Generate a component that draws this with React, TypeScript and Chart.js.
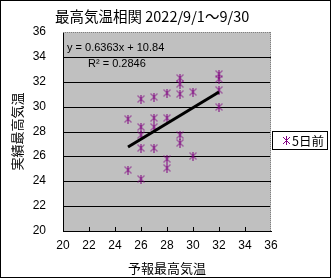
import React, { useEffect, useRef } from 'react';
import { Chart, registerables } from 'chart.js';

Chart.register(...registerables);

const titleText = '最高気温相関 2022/9/1～9/30';
const xAxisTitle = '予報最高気温';
const yAxisTitle = '実績最高気温';
const seriesLabel = '5日前';

// forecast max temperature (x) and actual max temperature (y)
const forecastTemps = [
  25, 25,
  26, 26, 26, 26, 26,
  27, 27, 27, 27,
  28, 28, 28, 28,
  29, 29, 29, 29, 29,
  30, 30,
  32, 32, 32, 32,
];
const actualTemps = [
  29.0, 24.9,
  30.6, 28.4, 27.7, 26.7, 24.2,
  30.8, 29.1, 28.4, 26.7,
  31.1, 29.1, 25.8, 25.1,
  32.3, 31.8, 31.0, 27.7, 27.1,
  31.2, 26.0,
  32.6, 32.2, 31.3, 30.0,
];

const trendSlope = 0.6363;
const trendIntercept = 10.84;
const rSquared = 0.2846;

const axisMin = 20;
const axisMax = 36;
const axisStep = 2;

const CJK = '"Noto Sans CJK JP", sans-serif';
const LATIN = '"Liberation Sans", Arial, sans-serif';

function makeMarker(): HTMLCanvasElement {
  const c = document.createElement('canvas');
  c.width = 9;
  c.height = 9;
  const g = c.getContext('2d')!;
  g.strokeStyle = '#800080';
  g.lineWidth = 1;
  g.beginPath();
  g.moveTo(1, 1);
  g.lineTo(8, 8);
  g.moveTo(8, 1);
  g.lineTo(1, 8);
  g.moveTo(4.5, 0);
  g.lineTo(4.5, 9);
  g.stroke();
  return c;
}

export default function App() {
  const ref = useRef<HTMLCanvasElement>(null);

  useEffect(() => {
    document.body.style.margin = '0';
    const canvas = ref.current!;
    const marker = makeMarker();

    const points = forecastTemps.map((x, i) => ({ x, y: actualTemps[i] }));
    const minX = Math.min(...forecastTemps);
    const maxX = Math.max(...forecastTemps);
    const trend = [
      { x: minX, y: trendSlope * minX + trendIntercept },
      { x: maxX, y: trendSlope * maxX + trendIntercept },
    ];

    const decor = {
      id: 'decor',
      beforeDraw(chart: any) {
        const { ctx, chartArea: a } = chart;
        ctx.save();
        ctx.fillStyle = '#ffffff';
        ctx.fillRect(0, 0, chart.width, chart.height);
        ctx.fillStyle = '#c0c0c0';
        ctx.fillRect(a.left, a.top, a.right - a.left, a.bottom - a.top);
        ctx.restore();
      },
      beforeDatasetsDraw(chart: any) {
        const { ctx, chartArea: a, scales } = chart;
        ctx.save();
        ctx.strokeStyle = '#808080';
        ctx.lineWidth = 1;
        ctx.setLineDash([1, 1]);
        ctx.beginPath();
        ctx.moveTo(a.left, Math.round(a.top) + 0.5);
        ctx.lineTo(a.right, Math.round(a.top) + 0.5);
        ctx.moveTo(Math.round(a.right) - 0.5, a.top);
        ctx.lineTo(Math.round(a.right) - 0.5, a.bottom);
        ctx.stroke();
        ctx.setLineDash([]);
        ctx.strokeStyle = '#000000';
        ctx.beginPath();
        for (let v = axisMin + axisStep; v < axisMax; v += axisStep) {
          const px = Math.round(scales.x.getPixelForValue(v)) + 0.5;
          ctx.moveTo(px, a.bottom);
          ctx.lineTo(px, a.bottom - 4);
        }
        ctx.stroke();
        ctx.restore();
      },
      afterDraw(chart: any) {
        const { ctx, chartArea: a } = chart;
        ctx.save();
        // title
        ctx.fillStyle = '#000';
        ctx.font = `14.5px ${CJK}`;
        ctx.textBaseline = 'middle';
        ctx.textAlign = 'left';
        ctx.fillText(titleText, 55, 16);
        // regression labels
        ctx.font = `11px ${LATIN}`;
        ctx.fillText(`y = ${trendSlope}x + ${trendIntercept}`, a.left + 4, 48);
        ctx.fillText(`R² = ${rSquared}`, a.left + 25, 64);
        // legend
        ctx.strokeStyle = '#000';
        ctx.lineWidth = 1;
        ctx.strokeRect(272.5, 131.5, 55, 18);
        ctx.drawImage(marker, 282, 136);
        ctx.font = `12.5px ${CJK}`;
        ctx.fillText(chart.data.datasets[0].label, 292, 141);
        // outer frame
        ctx.strokeRect(0.5, 0.5, chart.width - 1, chart.height - 1);
        ctx.restore();
      },
    };

    const chart = new Chart(canvas, {
      type: 'scatter',
      data: {
        datasets: [
          {
            label: seriesLabel,
            data: points,
            pointStyle: marker as any,
            pointRadius: 4,
            order: 1,
          },
          {
            label: 'trend',
            type: 'line',
            data: trend,
            borderColor: '#000000',
            borderWidth: 3,
            pointRadius: 0,
            showLine: true,
            fill: false,
            order: 0,
          } as any,
        ],
      },
      options: {
        responsive: false,
        animation: false,
        devicePixelRatio: 1,
        layout: { padding: { top: 32, right: 60, left: 0, bottom: 0 } },
        plugins: {
          legend: { display: false },
          tooltip: { enabled: false },
          title: { display: false },
        },
        scales: {
          x: {
            type: 'linear',
            min: axisMin,
            max: axisMax,
            ticks: { stepSize: axisStep, color: '#000', font: { family: LATIN, size: 12 }, padding: 7 },
            grid: { display: false, drawTicks: false },
            border: { display: true, color: '#000', width: 1 },
            title: {
              display: true,
              text: xAxisTitle,
              color: '#000',
              font: { family: CJK, size: 13 },
              padding: { top: 0, bottom: 2 },
            },
            afterFit(scale: any) {
              scale.height = 47;
            },
          },
          y: {
            type: 'linear',
            min: axisMin,
            max: axisMax,
            alignToPixels: true,
            ticks: { stepSize: axisStep, color: '#000', font: { family: LATIN, size: 12 }, padding: 17 },
            grid: {
              drawTicks: false,
              lineWidth: 1,
              color: (c: any) =>
                c.tick && (c.tick.value === axisMin || c.tick.value === axisMax) ? 'rgba(0,0,0,0)' : '#000',
            },
            border: { display: true, color: '#000', width: 1 },
            title: {
              display: true,
              text: yAxisTitle,
              color: '#000',
              font: { family: CJK, size: 13 },
              padding: { top: 9, bottom: 0 },
            },
            afterFit(scale: any) {
              scale.width = 63;
            },
          },
        },
      } as any,
      plugins: [decor],
    });

    return () => chart.destroy();
  }, []);

  return (
    <div style={{ position: 'absolute', left: 0, top: 0, width: 331, height: 278 }}>
      <canvas ref={ref} width={331} height={278} style={{ display: 'block', width: 331, height: 278 }} />
    </div>
  );
}
